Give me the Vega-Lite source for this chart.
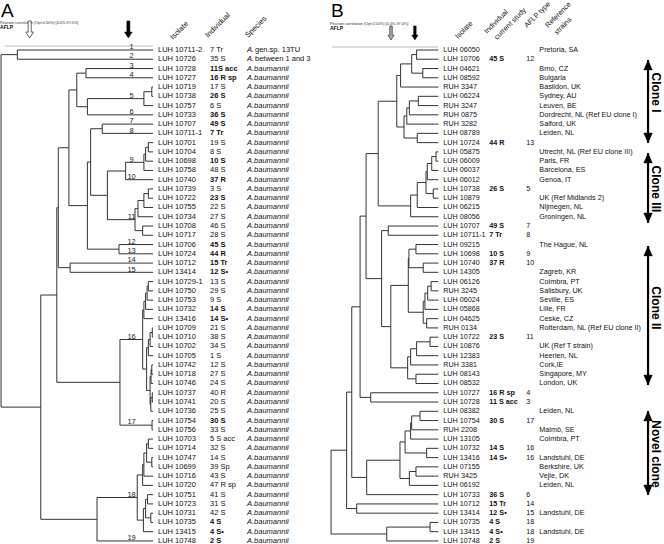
{
"$schema": "https://vega.github.io/schema/vega-lite/v6.json",
"padding": 0,
"spacing": 0,
"bounds": "flush",
"background": "white",
"config": {"view": {"stroke": null}, "font": "Liberation Sans", "text": {"font": "Liberation Sans"}},
"datasets": {
"one": [{"k": 1}],
"leavesA": [
{"r":1,"iso":"LUH 10711-2","ind":"7 Tr","b":false,"sp":"A.","sp2":"gen.sp. 13TU","ph":45.0},
{"r":2,"iso":"LUH 10726","ind":"35 S","b":false,"sp":"A.","sp2":"between 1 and 3","ph":45.0},
{"r":3,"iso":"LUH 10728","ind":"11S acc","b":true,"sp":"A.baumannii","sp2":"","ph":72.8},
{"r":4,"iso":"LUH 10727","ind":"16 R sp","b":true,"sp":"A.baumannii","sp2":"","ph":72.8},
{"r":5,"iso":"LUH 10719","ind":"17 S","b":false,"sp":"A.baumannii","sp2":"","ph":99.5},
{"r":6,"iso":"LUH 10738","ind":"26 S","b":true,"sp":"A.baumannii","sp2":"","ph":99.5},
{"r":7,"iso":"LUH 10757","ind":"6 S","b":false,"sp":"A.baumannii","sp2":"","ph":96.3},
{"r":8,"iso":"LUH 10733","ind":"36 S","b":true,"sp":"A.baumannii","sp2":"","ph":73.4},
{"r":9,"iso":"LUH 10707","ind":"49 S","b":true,"sp":"A.baumannii","sp2":"","ph":79.4},
{"r":10,"iso":"LUH 10711-1","ind":"7 Tr","b":true,"sp":"A.baumannii","sp2":"","ph":79.4},
{"r":11,"iso":"LUH 10701","ind":"19 S","b":false,"sp":"A.baumannii","sp2":"","ph":98.1},
{"r":12,"iso":"LUH 10704","ind":"8 S","b":false,"sp":"A.baumannii","sp2":"","ph":98.1},
{"r":13,"iso":"LUH 10698","ind":"10 S","b":true,"sp":"A.baumannii","sp2":"","ph":97.0},
{"r":14,"iso":"LUH 10758","ind":"48 S","b":false,"sp":"A.baumannii","sp2":"","ph":96.3},
{"r":15,"iso":"LUH 10740","ind":"37 R","b":true,"sp":"A.baumannii","sp2":"","ph":88.9},
{"r":16,"iso":"LUH 10739","ind":"3 S","b":false,"sp":"A.baumannii","sp2":"","ph":98.1},
{"r":17,"iso":"LUH 10722","ind":"23 S","b":true,"sp":"A.baumannii","sp2":"","ph":98.1},
{"r":18,"iso":"LUH 10755","ind":"22 S","b":false,"sp":"A.baumannii","sp2":"","ph":96.3},
{"r":19,"iso":"LUH 10734","ind":"27 S","b":false,"sp":"A.baumannii","sp2":"","ph":93.9},
{"r":20,"iso":"LUH 10708","ind":"46 S","b":false,"sp":"A.baumannii","sp2":"","ph":95.8},
{"r":21,"iso":"LUH 10717","ind":"28 S","b":false,"sp":"A.baumannii","sp2":"","ph":95.8},
{"r":22,"iso":"LUH 10706","ind":"45 S","b":true,"sp":"A.baumannii","sp2":"","ph":86.2},
{"r":23,"iso":"LUH 10724","ind":"44 R","b":true,"sp":"A.baumannii","sp2":"","ph":86.2},
{"r":24,"iso":"LUH 10712","ind":"15 Tr","b":true,"sp":"A.baumannii","sp2":"","ph":66.4},
{"r":25,"iso":"LUH 13414","ind":"12 S•","b":true,"sp":"A.baumannii","sp2":"","ph":66.4},
{"r":26,"iso":"LUH 10729-1","ind":"13 S","b":false,"sp":"A.baumannii","sp2":"","ph":98.1},
{"r":27,"iso":"LUH 10750","ind":"29 S","b":false,"sp":"A.baumannii","sp2":"","ph":98.1},
{"r":28,"iso":"LUH 10753","ind":"9 S","b":false,"sp":"A.baumannii","sp2":"","ph":97.6},
{"r":29,"iso":"LUH 10732","ind":"14 S","b":true,"sp":"A.baumannii","sp2":"","ph":97.0},
{"r":30,"iso":"LUH 13416","ind":"14 S•","b":true,"sp":"A.baumannii","sp2":"","ph":96.3},
{"r":31,"iso":"LUH 10709","ind":"21 S","b":false,"sp":"A.baumannii","sp2":"","ph":99.7},
{"r":32,"iso":"LUH 10710","ind":"38 S","b":false,"sp":"A.baumannii","sp2":"","ph":99.7},
{"r":33,"iso":"LUH 10702","ind":"34 S","b":false,"sp":"A.baumannii","sp2":"","ph":98.8},
{"r":34,"iso":"LUH 10705","ind":"1 S","b":false,"sp":"A.baumannii","sp2":"","ph":98.1},
{"r":35,"iso":"LUH 10742","ind":"12 S","b":false,"sp":"A.baumannii","sp2":"","ph":99.5},
{"r":36,"iso":"LUH 10718","ind":"27 S","b":false,"sp":"A.baumannii","sp2":"","ph":99.5},
{"r":37,"iso":"LUH 10746","ind":"24 S","b":false,"sp":"A.baumannii","sp2":"","ph":99.2},
{"r":38,"iso":"LUH 10737","ind":"40 R","b":false,"sp":"A.baumannii","sp2":"","ph":99.7},
{"r":39,"iso":"LUH 10741","ind":"20 S","b":false,"sp":"A.baumannii","sp2":"","ph":99.7},
{"r":40,"iso":"LUH 10736","ind":"25 S","b":false,"sp":"A.baumannii","sp2":"","ph":99.1},
{"r":41,"iso":"LUH 10754","ind":"30 S","b":true,"sp":"A.baumannii","sp2":"","ph":99.6},
{"r":42,"iso":"LUH 10756","ind":"33 S","b":false,"sp":"A.baumannii","sp2":"","ph":99.6},
{"r":43,"iso":"LUH 10703","ind":"5 S acc","b":false,"sp":"A.baumannii","sp2":"","ph":98.1},
{"r":44,"iso":"LUH 10714","ind":"32 S","b":false,"sp":"A.baumannii","sp2":"","ph":98.1},
{"r":45,"iso":"LUH 10747","ind":"14 S","b":false,"sp":"A.baumannii","sp2":"","ph":99.5},
{"r":46,"iso":"LUH 10699","ind":"39 Sp","b":false,"sp":"A.baumannii","sp2":"","ph":99.5},
{"r":47,"iso":"LUH 10716","ind":"43 S","b":false,"sp":"A.baumannii","sp2":"","ph":96.3},
{"r":48,"iso":"LUH 10720","ind":"47 R sp","b":false,"sp":"A.baumannii","sp2":"","ph":95.8},
{"r":49,"iso":"LUH 10751","ind":"41 S","b":false,"sp":"A.baumannii","sp2":"","ph":97.8},
{"r":50,"iso":"LUH 10723","ind":"31 S","b":false,"sp":"A.baumannii","sp2":"","ph":97.8},
{"r":51,"iso":"LUH 10731","ind":"42 S","b":false,"sp":"A.baumannii","sp2":"","ph":99.1},
{"r":52,"iso":"LUH 10735","ind":"4 S","b":true,"sp":"A.baumannii","sp2":"","ph":99.1},
{"r":53,"iso":"LUH 13415","ind":"4 S•","b":true,"sp":"A.baumannii","sp2":"","ph":96.1},
{"r":54,"iso":"LUH 10748","ind":"2 S","b":true,"sp":"A.baumannii","sp2":"","ph":77.3}
],
"nodesA": [
{"h":45.0,"top":1,"bot":2,"mid":1.5,"ph":38.4},
{"h":72.8,"top":3,"bot":4,"mid":3.5,"ph":69.1},
{"h":99.5,"top":5,"bot":6,"mid":5.5,"ph":96.3},
{"h":96.3,"top":5.5,"bot":7,"mid":6.25,"ph":73.4},
{"h":73.4,"top":6.25,"bot":8,"mid":7.125,"ph":69.1},
{"h":69.1,"top":3.5,"bot":7.125,"mid":5.3125,"ph":65.9},
{"h":79.4,"top":9,"bot":10,"mid":9.5,"ph":74.7},
{"h":98.1,"top":11,"bot":12,"mid":11.5,"ph":97.0},
{"h":97.0,"top":11.5,"bot":13,"mid":12.25,"ph":96.3},
{"h":96.3,"top":12.25,"bot":14,"mid":13.125,"ph":88.9},
{"h":88.9,"top":13.125,"bot":15,"mid":14.0625,"ph":81.5},
{"h":98.1,"top":16,"bot":17,"mid":16.5,"ph":96.3},
{"h":96.3,"top":16.5,"bot":18,"mid":17.25,"ph":93.9},
{"h":93.9,"top":17.25,"bot":19,"mid":18.125,"ph":92.7},
{"h":95.8,"top":20,"bot":21,"mid":20.5,"ph":92.7},
{"h":92.7,"top":18.125,"bot":20.5,"mid":19.3125,"ph":81.5},
{"h":81.5,"top":14.0625,"bot":19.3125,"mid":16.6875,"ph":74.7},
{"h":74.7,"top":9.5,"bot":16.6875,"mid":13.094,"ph":73.4},
{"h":86.2,"top":22,"bot":23,"mid":22.5,"ph":73.4},
{"h":73.4,"top":13.094,"bot":22.5,"mid":17.797,"ph":65.9},
{"h":65.9,"top":5.3125,"bot":17.797,"mid":11.555,"ph":61.6},
{"h":66.4,"top":24,"bot":25,"mid":24.5,"ph":61.6},
{"h":61.6,"top":11.555,"bot":24.5,"mid":18.027,"ph":61.0},
{"h":98.1,"top":26,"bot":27,"mid":26.5,"ph":97.6},
{"h":97.6,"top":26.5,"bot":28,"mid":27.25,"ph":97.0},
{"h":97.0,"top":27.25,"bot":29,"mid":28.125,"ph":96.3},
{"h":96.3,"top":28.125,"bot":30,"mid":29.06,"ph":95.8},
{"h":99.7,"top":31,"bot":32,"mid":31.5,"ph":98.8},
{"h":98.8,"top":31.5,"bot":33,"mid":32.25,"ph":98.1},
{"h":98.1,"top":32.25,"bot":34,"mid":33.125,"ph":97.4},
{"h":99.5,"top":35,"bot":36,"mid":35.5,"ph":99.2},
{"h":99.2,"top":35.5,"bot":37,"mid":36.25,"ph":98.8},
{"h":99.7,"top":38,"bot":39,"mid":38.5,"ph":99.1},
{"h":99.1,"top":38.5,"bot":40,"mid":39.25,"ph":98.8},
{"h":98.8,"top":36.25,"bot":39.25,"mid":37.75,"ph":97.4},
{"h":97.4,"top":33.125,"bot":37.75,"mid":35.44,"ph":95.8},
{"h":95.8,"top":29.06,"bot":35.44,"mid":32.25,"ph":86.6},
{"h":99.6,"top":41,"bot":42,"mid":41.5,"ph":86.6},
{"h":86.6,"top":32.25,"bot":41.5,"mid":36.875,"ph":61.0},
{"h":61.0,"top":18.027,"bot":36.875,"mid":27.45,"ph":54.5},
{"h":98.1,"top":43,"bot":44,"mid":43.5,"ph":97.4},
{"h":99.5,"top":45,"bot":46,"mid":45.5,"ph":97.4},
{"h":97.4,"top":43.5,"bot":45.5,"mid":44.5,"ph":96.3},
{"h":96.3,"top":44.5,"bot":47,"mid":45.75,"ph":95.8},
{"h":95.8,"top":45.75,"bot":48,"mid":46.875,"ph":93.6},
{"h":97.8,"top":49,"bot":50,"mid":49.5,"ph":97.0},
{"h":99.1,"top":51,"bot":52,"mid":51.5,"ph":97.0},
{"h":97.0,"top":49.5,"bot":51.5,"mid":50.5,"ph":96.1},
{"h":96.1,"top":50.5,"bot":53,"mid":51.75,"ph":93.6},
{"h":93.6,"top":46.875,"bot":51.75,"mid":49.31,"ph":77.3},
{"h":77.3,"top":49.31,"bot":54,"mid":51.66,"ph":54.5},
{"h":54.5,"top":27.45,"bot":51.66,"mid":39.55,"ph":38.4},
{"h":38.4,"top":1.5,"bot":39.55,"mid":20.5,"ph":38.4}
],
"typesA": [
{"t":"1","r":1},{"t":"2","r":2},{"t":"3","r":3},{"t":"4","r":4},{"t":"5","r":6.25},{"t":"6","r":8},{"t":"7","r":9},{"t":"8","r":10},{"t":"9","r":13.125},{"t":"10","r":15},{"t":"11","r":19.31},{"t":"12","r":22},{"t":"13","r":23},{"t":"14","r":24},{"t":"15","r":25},{"t":"16","r":32.25},{"t":"17","r":41.5},{"t":"18","r":49.31},{"t":"19","r":54}
],
"leavesB": [
{"r":1,"iso":"LUH 06050","ind":"","t":"","ref":"Pretoria, SA","ph":89.8},
{"r":2,"iso":"LUH 10706","ind":"45 S","t":"12","ref":"","ph":89.8},
{"r":3,"iso":"LUH 04621","ind":"","t":"","ref":"Brno, CZ","ph":92.7},
{"r":4,"iso":"LUH 08592","ind":"","t":"","ref":"Bulgaria","ph":92.7},
{"r":5,"iso":"RUH 3347","ind":"","t":"","ref":"Basildon, UK","ph":82.3},
{"r":6,"iso":"LUH 06224","ind":"","t":"","ref":"Sydney, AU","ph":90.6},
{"r":7,"iso":"RUH 3247","ind":"","t":"","ref":"Leuven, BE","ph":90.6},
{"r":8,"iso":"RUH 0875","ind":"","t":"","ref":"Dordrecht, NL (Ref EU clone I)","ph":86.4},
{"r":9,"iso":"RUH 3282","ind":"","t":"","ref":"Salford, UK","ph":85.2},
{"r":10,"iso":"LUH 08789","ind":"","t":"","ref":"Leiden, NL","ph":90.1},
{"r":11,"iso":"LUH 10724","ind":"44 R","t":"13","ref":"","ph":90.1},
{"r":12,"iso":"LUH 05875","ind":"","t":"","ref":"Utrecht, NL (Ref EU clone III)","ph":98.9},
{"r":13,"iso":"LUH 06009","ind":"","t":"","ref":"Paris, FR","ph":98.9},
{"r":14,"iso":"LUH 06037","ind":"","t":"","ref":"Barcelona, ES","ph":96.9},
{"r":15,"iso":"LUH 06012","ind":"","t":"","ref":"Genoa, IT","ph":94.8},
{"r":16,"iso":"LUH 10738","ind":"26 S","t":"5","ref":"","ph":97.6},
{"r":17,"iso":"LUH 10879","ind":"","t":"","ref":"UK (Ref Midlands 2)","ph":97.6},
{"r":18,"iso":"LUH 06215","ind":"","t":"","ref":"Nijmegen, NL","ph":90.1},
{"r":19,"iso":"LUH 08056","ind":"","t":"","ref":"Groningen, NL","ph":87.0},
{"r":20,"iso":"LUH 10707","ind":"49 S","t":"7","ref":"","ph":76.5},
{"r":21,"iso":"LUH 10711-1","ind":"7 Tr","t":"8","ref":"","ph":76.5},
{"r":22,"iso":"LUH 09215","ind":"","t":"","ref":"The Hague, NL","ph":89.5},
{"r":23,"iso":"LUH 10698","ind":"10 S","t":"9","ref":"","ph":89.5},
{"r":24,"iso":"LUH 10740","ind":"37 R","t":"10","ref":"","ph":92.9},
{"r":25,"iso":"LUH 14305","ind":"","t":"","ref":"Zagreb, KR","ph":92.9},
{"r":26,"iso":"LUH 06126","ind":"","t":"","ref":"Coimbra, PT","ph":96.6},
{"r":27,"iso":"RUH 3245","ind":"","t":"","ref":"Salisbury, UK","ph":96.6},
{"r":28,"iso":"LUH 06024","ind":"","t":"","ref":"Seville, ES","ph":95.0},
{"r":29,"iso":"LUH 05868","ind":"","t":"","ref":"Lille, FR","ph":93.7},
{"r":30,"iso":"LUH 04625","ind":"","t":"","ref":"Ceske, CZ","ph":94.5},
{"r":31,"iso":"RUH 0134","ind":"","t":"","ref":"Rotterdam, NL (Ref EU clone II)","ph":94.5},
{"r":32,"iso":"LUH 10722","ind":"23 S","t":"11","ref":"","ph":96.1},
{"r":33,"iso":"LUH 10876","ind":"","t":"","ref":"UK (Ref T strain)","ph":96.1},
{"r":34,"iso":"LUH 12383","ind":"","t":"","ref":"Heerlen, NL","ph":89.8},
{"r":35,"iso":"RUH 3381","ind":"","t":"","ref":"Cork,IE","ph":87.0},
{"r":36,"iso":"LUH 08143","ind":"","t":"","ref":"Singapore, MY","ph":89.5},
{"r":37,"iso":"LUH 08532","ind":"","t":"","ref":"London, UK","ph":89.5},
{"r":38,"iso":"LUH 10727","ind":"16 R sp","t":"4","ref":"","ph":68.3},
{"r":39,"iso":"LUH 10728","ind":"11 S acc","t":"3","ref":"","ph":68.3},
{"r":40,"iso":"LUH 08382","ind":"","t":"","ref":"Leiden, NL","ph":91.4},
{"r":41,"iso":"LUH 10754","ind":"30 S","t":"17","ref":"","ph":91.4},
{"r":42,"iso":"RUH 2208","ind":"","t":"","ref":"Malmö, SE","ph":87.5},
{"r":43,"iso":"LUH 13105","ind":"","t":"","ref":"Coimbra, PT","ph":87.0},
{"r":44,"iso":"LUH 10732","ind":"14 S","t":"16","ref":"","ph":94.5},
{"r":45,"iso":"LUH 13416","ind":"14 S•","t":"16","ref":"Landstuhl, DE","ph":94.5},
{"r":46,"iso":"LUH 07155","ind":"","t":"","ref":"Berkshire, UK","ph":89.5},
{"r":47,"iso":"RUH 3425","ind":"","t":"","ref":"Vejle, DK","ph":89.5},
{"r":48,"iso":"LUH 06192","ind":"","t":"","ref":"Leiden, NL","ph":86.4},
{"r":49,"iso":"LUH 10733","ind":"36 S","t":"6","ref":"","ph":66.4},
{"r":50,"iso":"LUH 10712","ind":"15 Tr","t":"14","ref":"","ph":61.7},
{"r":51,"iso":"LUH 13414","ind":"12 S•","t":"15","ref":"Landstuhl, DE","ph":61.7},
{"r":52,"iso":"LUH 10735","ind":"4 S","t":"18","ref":"","ph":96.1},
{"r":53,"iso":"LUH 13415","ind":"4 S•","t":"18","ref":"Landstuhl, DE","ph":96.1},
{"r":54,"iso":"LUH 10748","ind":"2 S","t":"19","ref":"","ph":75.8}
],
"nodesB": [
{"h":89.8,"top":1,"bot":2,"mid":1.5,"ph":87.5},
{"h":92.7,"top":3,"bot":4,"mid":3.5,"ph":87.5},
{"h":87.5,"top":1.5,"bot":3.5,"mid":2.5,"ph":82.3},
{"h":82.3,"top":2.5,"bot":5,"mid":3.75,"ph":80.5},
{"h":90.6,"top":6,"bot":7,"mid":6.5,"ph":86.4},
{"h":86.4,"top":6.5,"bot":8,"mid":7.25,"ph":85.2},
{"h":85.2,"top":7.25,"bot":9,"mid":8.125,"ph":83.9},
{"h":90.1,"top":10,"bot":11,"mid":10.5,"ph":83.9},
{"h":83.9,"top":8.125,"bot":10.5,"mid":9.31,"ph":80.5},
{"h":80.5,"top":3.75,"bot":9.31,"mid":6.53,"ph":71.8},
{"h":98.9,"top":12,"bot":13,"mid":12.5,"ph":96.9},
{"h":96.9,"top":12.5,"bot":14,"mid":13.25,"ph":94.8},
{"h":94.8,"top":13.25,"bot":15,"mid":14.125,"ph":94.2},
{"h":97.6,"top":16,"bot":17,"mid":16.5,"ph":94.2},
{"h":94.2,"top":14.125,"bot":16.5,"mid":15.31,"ph":90.1},
{"h":90.1,"top":15.31,"bot":18,"mid":16.66,"ph":87.0},
{"h":87.0,"top":16.66,"bot":19,"mid":17.83,"ph":71.8},
{"h":71.8,"top":6.53,"bot":17.83,"mid":12.18,"ph":66.1},
{"h":76.5,"top":20,"bot":21,"mid":20.5,"ph":73.4},
{"h":89.5,"top":22,"bot":23,"mid":22.5,"ph":86.2},
{"h":92.9,"top":24,"bot":25,"mid":24.5,"ph":86.2},
{"h":86.2,"top":22.5,"bot":24.5,"mid":23.5,"ph":85.9},
{"h":96.6,"top":26,"bot":27,"mid":26.5,"ph":95.0},
{"h":95.0,"top":26.5,"bot":28,"mid":27.25,"ph":93.7},
{"h":93.7,"top":27.25,"bot":29,"mid":28.125,"ph":92.9},
{"h":94.5,"top":30,"bot":31,"mid":30.5,"ph":92.9},
{"h":92.9,"top":28.125,"bot":30.5,"mid":29.31,"ph":85.9},
{"h":85.9,"top":23.5,"bot":29.31,"mid":26.41,"ph":77.7},
{"h":96.1,"top":32,"bot":33,"mid":32.5,"ph":89.8},
{"h":89.8,"top":32.5,"bot":34,"mid":33.25,"ph":87.0},
{"h":87.0,"top":33.25,"bot":35,"mid":34.125,"ph":85.6},
{"h":89.5,"top":36,"bot":37,"mid":36.5,"ph":85.6},
{"h":85.6,"top":34.125,"bot":36.5,"mid":35.31,"ph":77.7},
{"h":77.7,"top":26.41,"bot":35.31,"mid":30.86,"ph":73.4},
{"h":73.4,"top":20.5,"bot":30.86,"mid":25.68,"ph":66.1},
{"h":66.1,"top":12.18,"bot":25.68,"mid":18.93,"ph":63.3},
{"h":68.3,"top":38,"bot":39,"mid":38.5,"ph":63.3},
{"h":63.3,"top":18.93,"bot":38.5,"mid":28.72,"ph":59.4},
{"h":91.4,"top":40,"bot":41,"mid":40.5,"ph":87.5},
{"h":87.5,"top":40.5,"bot":42,"mid":41.25,"ph":87.0},
{"h":87.0,"top":41.25,"bot":43,"mid":42.125,"ph":84.4},
{"h":94.5,"top":44,"bot":45,"mid":44.5,"ph":84.4},
{"h":84.4,"top":42.125,"bot":44.5,"mid":43.31,"ph":82.0},
{"h":89.5,"top":46,"bot":47,"mid":46.5,"ph":86.4},
{"h":86.4,"top":46.5,"bot":48,"mid":47.25,"ph":82.0},
{"h":82.0,"top":43.31,"bot":47.25,"mid":45.28,"ph":66.4},
{"h":66.4,"top":45.28,"bot":49,"mid":47.14,"ph":59.4},
{"h":59.4,"top":28.72,"bot":47.14,"mid":37.93,"ph":57.0},
{"h":61.7,"top":50,"bot":51,"mid":50.5,"ph":57.0},
{"h":57.0,"top":37.93,"bot":50.5,"mid":44.2,"ph":49.7},
{"h":96.1,"top":52,"bot":53,"mid":52.5,"ph":75.8},
{"h":75.8,"top":52.5,"bot":54,"mid":53.25,"ph":49.7},
{"h":49.7,"top":44.2,"bot":53.25,"mid":48.7,"ph":49.7}
],
"clones": [
{"name":"Clone I","top":2.08,"bot":11.04,"tm":5.6},
{"name":"Clone III","top":12.12,"bot":19.67,"tm":16.0},
{"name":"Clone II","top":22.16,"bot":37.16,"tm":28.85},
{"name":"Novel clone","top":39.97,"bot":49.04,"tm":44.61}
]
},
"hconcat": [
{
"width": 330,
"height": 544,
"layer": [
{"data":{"name":"nodesA"},"mark":{"type":"rule","stroke":"#333","strokeWidth":1},
"encoding":{
"x":{"field":"h","type":"quantitative","scale":{"domain":[37.97,171.74],"nice":false,"zero":false},
"axis":{"orient":"top","offset":-43,"values":[40,41,42,43,44,45,46,47,48,49,50,51,52,53,54,55,56,57,58,59,60,61,62,63,64,65,66,67,68,69,70,71,72,73,74,75,76,77,78,79,80,81,82,83,84,85,86,87,88,89,90,91,92,93,94,95,96,97,98,99,100],"domain":false,"grid":false,"tickColor":"#555","tickWidth":0.5,"tickSize":{"condition":{"test":"datum.value % 5 === 0","value":3.5},"value":2},"labelExpr":"datum.value % 5 === 0 ? datum.label : ''","labelAngle":-90,"labelAlign":"left","labelBaseline":"middle","labelFontSize":4.5,"labelColor":"#444","labelPadding":1,"labelOverlap":false,"labelFlush":false,"labelBound":false,"title":null}},
"y":{"field":"top","type":"quantitative","scale":{"domain":[-4.073,54.65],"reverse":true,"nice":false,"zero":false},"axis":null},
"y2":{"field":"bot"}}},
{"data":{"name":"nodesA"},"mark":{"type":"rule","stroke":"#333","strokeWidth":1},
"encoding":{"x":{"field":"ph","type":"quantitative","axis":null},"x2":{"field":"h"},"y":{"field":"mid","type":"quantitative","axis":null}}},
{"data":{"name":"leavesA"},"mark":{"type":"rule","stroke":"#333","strokeWidth":1},
"encoding":{"x":{"field":"ph","type":"quantitative","axis":null},"x2":{"datum":100},"y":{"field":"r","type":"quantitative","axis":null}}},
{"data":{"name":"one"},"mark":{"type":"rule","stroke":"#777","strokeWidth":0.5},
"encoding":{"x":{"datum":40,"axis":null},"x2":{"datum":100},"y":{"datum":0.57,"axis":null}}},
{"data":{"name":"typesA"},"mark":{"type":"text","align":"center","baseline":"alphabetic","dy":-0.8,"fontSize":7.5,"fill":"#222"},
"encoding":{"x":{"datum":91.3,"axis":null},"y":{"field":"r","type":"quantitative","axis":null},"text":{"field":"t"}}},
{"data":{"name":"leavesA"},"mark":{"type":"text","align":"left","baseline":"middle","dx":5,"fontSize":7.5,"fill":"#111"},
"encoding":{"x":{"datum":100,"axis":null},"y":{"field":"r","type":"quantitative","axis":null},"text":{"field":"iso"}}},
{"data":{"name":"leavesA"},"transform":[{"filter":"!datum.b"}],"mark":{"type":"text","align":"left","baseline":"middle","dx":57,"fontSize":7.5,"fill":"#111"},
"encoding":{"x":{"datum":100,"axis":null},"y":{"field":"r","type":"quantitative","axis":null},"text":{"field":"ind"}}},
{"data":{"name":"leavesA"},"transform":[{"filter":"datum.b"}],"mark":{"type":"text","align":"left","baseline":"middle","dx":57,"fontSize":7.5,"fontWeight":"bold","fill":"#111"},
"encoding":{"x":{"datum":100,"axis":null},"y":{"field":"r","type":"quantitative","axis":null},"text":{"field":"ind"}}},
{"data":{"name":"leavesA"},"mark":{"type":"text","align":"left","baseline":"middle","dx":94,"fontSize":7.5,"fontStyle":"italic","fill":"#111"},
"encoding":{"x":{"datum":100,"axis":null},"y":{"field":"r","type":"quantitative","axis":null},"text":{"field":"sp"}}},
{"data":{"name":"leavesA"},"mark":{"type":"text","align":"left","baseline":"middle","dx":102,"fontSize":7.5,"fill":"#111"},
"encoding":{"x":{"datum":100,"axis":null},"y":{"field":"r","type":"quantitative","axis":null},"text":{"field":"sp2"}}},
{"data":{"name":"one"},"mark":{"type":"text","text":"Isolate","angle":-45,"align":"left","baseline":"alphabetic","fontSize":7.5,"fill":"#111"},
"encoding":{"x":{"datum":108.1,"axis":null},"y":{"datum":-0.08,"axis":null}}},
{"data":{"name":"one"},"mark":{"type":"text","text":"Individual","angle":-45,"align":"left","baseline":"alphabetic","fontSize":7.5,"fill":"#111"},
"encoding":{"x":{"datum":122.3,"axis":null},"y":{"datum":-0.3,"axis":null}}},
{"data":{"name":"one"},"mark":{"type":"text","text":"Species","angle":-45,"align":"left","baseline":"alphabetic","fontSize":7.5,"fill":"#111"},
"encoding":{"x":{"datum":138.5,"axis":null},"y":{"datum":-0.3,"axis":null}}},
{"data":{"name":"one"},"mark":{"type":"text","text":"A","align":"left","baseline":"alphabetic","fontSize":19,"fill":"#000"},
"encoding":{"x":{"datum":38.4,"axis":null},"y":{"datum":-2.56,"axis":null}}},
{"data":{"name":"one"},"mark":{"type":"text","text":"Pearson correlation (Opt:0.50%) [4.0%-97.0%]","align":"left","baseline":"alphabetic","fontSize":3.8,"fill":"#333"},
"encoding":{"x":{"datum":38.0,"axis":null},"y":{"datum":-1.86,"axis":null}}},
{"data":{"name":"one"},"mark":{"type":"text","text":"AFLP","align":"left","baseline":"alphabetic","fontSize":5,"fontWeight":"bold","fill":"#111"},
"encoding":{"x":{"datum":38.0,"axis":null},"y":{"datum":-1.27,"axis":null}}},
{"data":{"name":"one"},"mark":{"type":"point","shape":"M-0.18,-1 L0.18,-1 L0.18,0.3 L0.45,0.3 L0,1 L-0.45,0.3 L-0.18,0.3 Z","size":289,"filled":true,"fill":"#000","stroke":"#000","strokeWidth":0.5,"opacity":1},
"encoding":{"x":{"datum":90,"axis":null},"y":{"datum":-1.21,"axis":null}}},
{"data":{"name":"one"},"mark":{"type":"point","shape":"M-0.18,-1 L0.18,-1 L0.18,0.3 L0.45,0.3 L0,1 L-0.45,0.3 L-0.18,0.3 Z","size":289,"filled":true,"fill":"#fff","stroke":"#222","strokeWidth":0.7,"opacity":1},
"encoding":{"x":{"datum":50,"axis":null},"y":{"datum":-1.21,"axis":null}}}
]
},
{
"width": 334,
"height": 544,
"layer": [
{"data":{"name":"nodesB"},"mark":{"type":"rule","stroke":"#333","strokeWidth":1},
"encoding":{
"x":{"field":"h","type":"quantitative","scale":{"domain":[49.2,205.78],"nice":false,"zero":false},
"axis":{"orient":"top","offset":-44,"values":[50,51,52,53,54,55,56,57,58,59,60,61,62,63,64,65,66,67,68,69,70,71,72,73,74,75,76,77,78,79,80,81,82,83,84,85,86,87,88,89,90,91,92,93,94,95,96,97,98,99,100],"domain":false,"grid":false,"tickColor":"#555","tickWidth":0.5,"tickSize":{"condition":{"test":"datum.value % 5 === 0","value":3.5},"value":2},"labelExpr":"datum.value % 5 === 0 ? datum.label : ''","labelAngle":-90,"labelAlign":"left","labelBaseline":"middle","labelFontSize":4.5,"labelColor":"#444","labelPadding":1,"labelOverlap":false,"labelFlush":false,"labelBound":false,"title":null}},
"y":{"field":"top","type":"quantitative","scale":{"domain":[-4.073,54.65],"reverse":true,"nice":false,"zero":false},"axis":null},
"y2":{"field":"bot"}}},
{"data":{"name":"nodesB"},"mark":{"type":"rule","stroke":"#333","strokeWidth":1},
"encoding":{"x":{"field":"ph","type":"quantitative","axis":null},"x2":{"field":"h"},"y":{"field":"mid","type":"quantitative","axis":null}}},
{"data":{"name":"leavesB"},"mark":{"type":"rule","stroke":"#333","strokeWidth":1},
"encoding":{"x":{"field":"ph","type":"quantitative","axis":null},"x2":{"datum":100},"y":{"field":"r","type":"quantitative","axis":null}}},
{"data":{"name":"one"},"mark":{"type":"rule","stroke":"#777","strokeWidth":0.5},
"encoding":{"x":{"datum":50,"axis":null},"x2":{"datum":100},"y":{"datum":0.68,"axis":null}}},
{"data":{"name":"leavesB"},"mark":{"type":"text","align":"left","baseline":"middle","dx":5,"fontSize":7.2,"fill":"#111"},
"encoding":{"x":{"datum":100,"axis":null},"y":{"field":"r","type":"quantitative","axis":null},"text":{"field":"iso"}}},
{"data":{"name":"leavesB"},"mark":{"type":"text","align":"left","baseline":"middle","dx":51,"fontSize":7.2,"fontWeight":"bold","fill":"#111"},
"encoding":{"x":{"datum":100,"axis":null},"y":{"field":"r","type":"quantitative","axis":null},"text":{"field":"ind"}}},
{"data":{"name":"leavesB"},"mark":{"type":"text","align":"left","baseline":"middle","dx":88,"fontSize":7.2,"fill":"#111"},
"encoding":{"x":{"datum":100,"axis":null},"y":{"field":"r","type":"quantitative","axis":null},"text":{"field":"t"}}},
{"data":{"name":"leavesB"},"mark":{"type":"text","align":"left","baseline":"middle","dx":101,"fontSize":7.2,"fill":"#111"},
"encoding":{"x":{"datum":100,"axis":null},"y":{"field":"r","type":"quantitative","axis":null},"text":{"field":"ref"}}},
{"data":{"name":"one"},"mark":{"type":"text","text":"Isolate","angle":-45,"align":"left","baseline":"alphabetic","fontSize":7.2,"fill":"#111"},
"encoding":{"x":{"datum":109.2,"axis":null},"y":{"datum":-0.19,"axis":null}}},
{"data":{"name":"one"},"mark":{"type":"text","text":"Individual","angle":-45,"align":"left","baseline":"alphabetic","fontSize":7.2,"fill":"#111"},
"encoding":{"x":{"datum":122.8,"axis":null},"y":{"datum":-0.73,"axis":null}}},
{"data":{"name":"one"},"mark":{"type":"text","text":"current study","angle":-45,"align":"left","baseline":"alphabetic","fontSize":7.2,"fill":"#111"},
"encoding":{"x":{"datum":127.5,"axis":null},"y":{"datum":-0.08,"axis":null}}},
{"data":{"name":"one"},"mark":{"type":"text","text":"AFLP type","angle":-45,"align":"left","baseline":"alphabetic","fontSize":7.2,"fill":"#111"},
"encoding":{"x":{"datum":141.6,"axis":null},"y":{"datum":-1.37,"axis":null}}},
{"data":{"name":"one"},"mark":{"type":"text","text":"Reference","angle":-45,"align":"left","baseline":"alphabetic","fontSize":7.2,"fill":"#111"},
"encoding":{"x":{"datum":151.4,"axis":null},"y":{"datum":-1.37,"axis":null}}},
{"data":{"name":"one"},"mark":{"type":"text","text":"strains","angle":-45,"align":"left","baseline":"alphabetic","fontSize":7.2,"fill":"#111"},
"encoding":{"x":{"datum":155.6,"axis":null},"y":{"datum":-0.62,"axis":null}}},
{"data":{"name":"one"},"mark":{"type":"text","text":"B","align":"left","baseline":"alphabetic","fontSize":19,"fill":"#000"},
"encoding":{"x":{"datum":49.7,"axis":null},"y":{"datum":-2.56,"axis":null}}},
{"data":{"name":"one"},"mark":{"type":"text","text":"Pearson correlation (Opt:0.50%) [4.0%-97.0%]","align":"left","baseline":"alphabetic","fontSize":3.8,"fill":"#333"},
"encoding":{"x":{"datum":49.2,"axis":null},"y":{"datum":-1.75,"axis":null}}},
{"data":{"name":"one"},"mark":{"type":"text","text":"AFLP","align":"left","baseline":"alphabetic","fontSize":5,"fontWeight":"bold","fill":"#111"},
"encoding":{"x":{"datum":49.2,"axis":null},"y":{"datum":-1.17,"axis":null}}},
{"data":{"name":"one"},"mark":{"type":"point","shape":"M-0.18,-1 L0.18,-1 L0.18,0.3 L0.45,0.3 L0,1 L-0.45,0.3 L-0.18,0.3 Z","size":196,"filled":true,"fill":"#000","stroke":"#000","strokeWidth":0.5,"opacity":1},
"encoding":{"x":{"datum":89,"axis":null},"y":{"datum":-0.84,"axis":null}}},
{"data":{"name":"one"},"mark":{"type":"point","shape":"M-0.18,-1 L0.18,-1 L0.18,0.3 L0.45,0.3 L0,1 L-0.45,0.3 L-0.18,0.3 Z","size":196,"filled":true,"fill":"#aaa","stroke":"#333","strokeWidth":0.7,"opacity":1},
"encoding":{"x":{"datum":77.8,"axis":null},"y":{"datum":-0.84,"axis":null}}},
{"data":{"name":"clones"},"mark":{"type":"rule","stroke":"#000","strokeWidth":2.2},
"encoding":{"x":{"datum":198.3,"axis":null},"y":{"field":"top","type":"quantitative","axis":null},"y2":{"field":"bot"}}},
{"data":{"name":"clones"},"mark":{"type":"point","shape":"M0,0 L0.7,1.6 L-0.7,1.6 Z","size":156,"filled":true,"fill":"#000","stroke":"#000","strokeWidth":0.3,"opacity":1},
"encoding":{"x":{"datum":198.3,"axis":null},"y":{"field":"top","type":"quantitative","axis":null}}},
{"data":{"name":"clones"},"mark":{"type":"point","shape":"M0,0 L0.7,-1.6 L-0.7,-1.6 Z","size":156,"filled":true,"fill":"#000","stroke":"#000","strokeWidth":0.3,"opacity":1},
"encoding":{"x":{"datum":198.3,"axis":null},"y":{"field":"bot","type":"quantitative","axis":null}}},
{"data":{"name":"clones"},"mark":{"type":"text","angle":90,"align":"center","baseline":"middle","fontSize":12,"fontWeight":"bold","fill":"#000"},
"encoding":{"x":{"datum":202.2,"axis":null},"y":{"field":"tm","type":"quantitative","axis":null},"text":{"field":"name"}}}
]
}
]
}
